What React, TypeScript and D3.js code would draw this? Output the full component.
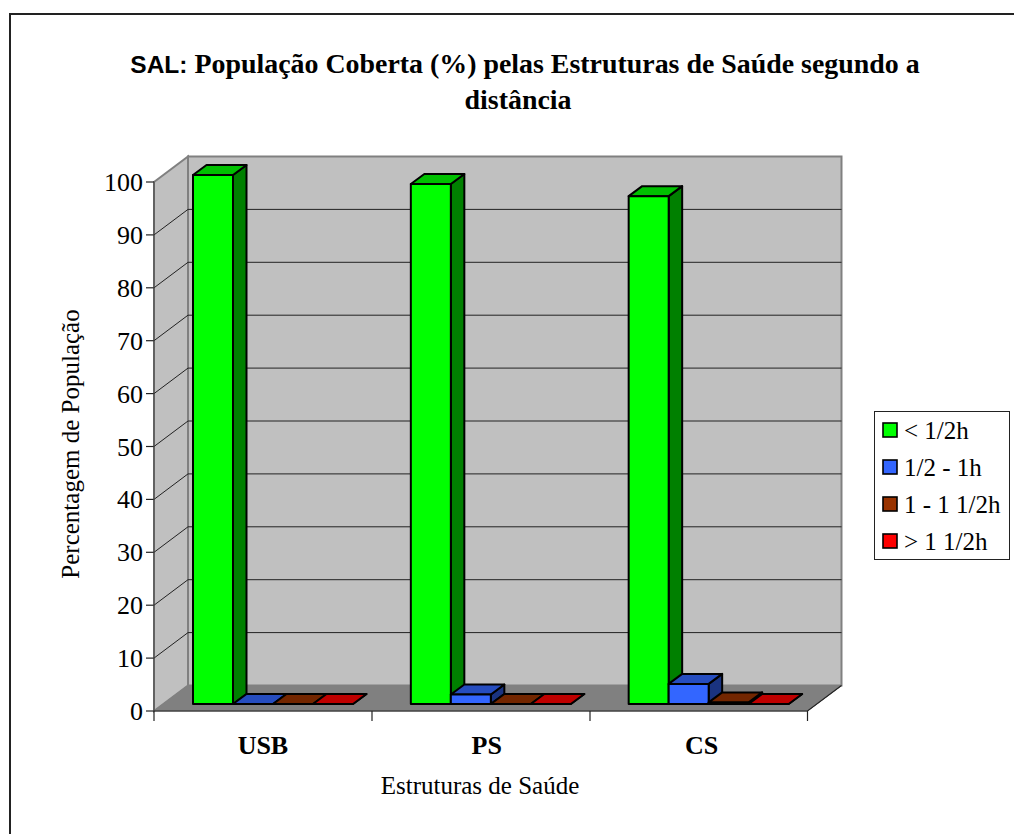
import React from "react";
import * as d3 from "d3";

const categories = ["USB", "PS", "CS"];
const seriesNames = ["< 1/2h", "1/2 - 1h", "1 - 1 1/2h", "> 1 1/2h"];
const under30 = [100, 98.3, 96];
const from30to60 = [0, 1.8, 3.8];
const from60to90 = [0, 0, 0.3];
const over90 = [0, 0, 0];
const series = [under30, from30to60, from60to90, over90];
const yTicks = d3.range(0, 101, 10);

const front = ["#00ff00", "#3366ff", "#993300", "#ff0000"];
const top = ["#00c000", "#264dbf", "#732600", "#bf0000"];
const side = ["#008000", "#1a3380", "#4d1a00", "#800000"];

const serif = "'Liberation Serif', 'Times New Roman', serif";
const sans = "'Liberation Sans', Arial, sans-serif";

const x = d3.scaleBand<string>().domain(categories).range([154, 807.5]);
const y = d3.scaleLinear().domain([0, 100]).range([711, 182]);
const wallDx = 34, wallDy = 25.5;
const barDx = 13.5, barDy = 10;
const barW = 40;
const barLeftInset = 39, barLift = 7;
const catLabelShift = [0, 6, 3];

const poly = (pts: number[][]) => pts.map((p) => p.join(",")).join(" ");

export default function App() {
  const backL = 154 + wallDx, backR = 807.5 + wallDx;
  return (
    <svg width={1014} height={834} style={{ position: "absolute", left: 0, top: 0, background: "#fff" }}>
      <path d="M10 834V14H1014" fill="none" stroke="#222" strokeWidth={2} />
      <text textAnchor="middle" fontFamily={serif} fontWeight="bold" fontSize={27.9}>
        <tspan x={525} y={73}><tspan fontFamily={sans} fontSize={24.5}>SAL:</tspan> População Coberta (%) pelas Estruturas de Saúde segundo a</tspan>
        <tspan x={518} y={109}>distância</tspan>
      </text>

      {/* walls */}
      <polygon points={poly([[backL, y(100) - wallDy], [backR, y(100) - wallDy], [backR, y(0) - wallDy], [backL, y(0) - wallDy]])} fill="#c0c0c0" stroke="#808080" strokeWidth={2} />
      <polygon points={poly([[154, y(100)], [backL, y(100) - wallDy], [backL, y(0) - wallDy], [154, y(0)]])} fill="#c0c0c0" stroke="#808080" strokeWidth={2} />
      <polygon points={poly([[154, y(0)], [backL, y(0) - wallDy], [backR, y(0) - wallDy], [807.5, y(0)]])} fill="#808080" stroke="#808080" />

      {yTicks.map((t) => (
        <g key={t}>
          {t > 0 && t < 100 && <path d={`M${backL} ${y(t) - wallDy}H${backR}`} stroke="#222" strokeWidth={1} />}
          {t < 100 && t > 0 && <path d={`M154 ${y(t)}L${backL} ${y(t) - wallDy}`} stroke="#222" strokeWidth={1} fill="none" />}
          <path d={`M146 ${y(t)}H154`} stroke="#222" strokeWidth={1.2} />
          <text x={143} y={y(t) + 9} textAnchor="end" fontFamily={serif} fontSize={26} fill="#000">{t}</text>
        </g>
      ))}
      <path d={`M154 ${y(100) - 0.5}V${y(0)}`} stroke="#444" strokeWidth={1} />
      <path d={`M154 ${y(0)}H807.5L${backR} ${y(0) - wallDy}`} stroke="#222" strokeWidth={1.2} fill="none" />
      {[154, 372, 590, 807.5].map((t) => <path key={t} d={`M${t} ${y(0)}V${y(0) + 10}`} stroke="#222" strokeWidth={1.2} />)}

      {/* bars, back to front */}
      {categories.map((c, ci) => series.map((vals, si) => {
        const v = vals[ci];
        const x0 = (x(c) as number) + barLeftInset + si * barW;
        const x1 = x0 + barW;
        const yb = y(0) - barLift;
        const yt = y(v) - barLift;
        const st = { stroke: "#000", strokeWidth: 2, strokeLinejoin: "round" as const };
        return (
          <g key={c + si}>
            <polygon points={poly([[x1, yt], [x1 + barDx, yt - barDy], [x1 + barDx, yb - barDy], [x1, yb]])} fill={side[si]} {...st} />
            <polygon points={poly([[x0, yt], [x0 + barDx, yt - barDy], [x1 + barDx, yt - barDy], [x1, yt]])} fill={top[si]} {...st} />
            <rect x={x0} y={yt} width={barW} height={Math.max(0, yb - yt)} fill={front[si]} {...st} />
          </g>
        );
      }))}

      {categories.map((c, i) => (
        <text key={c} x={(x(c) as number) + x.bandwidth() / 2 + catLabelShift[i]} y={754} textAnchor="middle" fontFamily={serif} fontWeight="bold" fontSize={26}>{c}</text>
      ))}
      <text x={480} y={794} textAnchor="middle" fontFamily={serif} fontSize={25}>Estruturas de Saúde</text>
      <text transform="translate(79,444) rotate(-90)" textAnchor="middle" fontFamily={serif} fontSize={25}>Percentagem de População</text>

      {/* legend */}
      <rect x={874.5} y={411.5} width={135} height={148} fill="#fff" stroke="#222" strokeWidth={1} />
      {seriesNames.map((s, i) => (
        <g key={s}>
          <rect x={883} y={423 + i * 37} width={14} height={14} fill={front[i]} stroke="#000" strokeWidth={1.6} />
          <text x={904} y={439 + i * 37} fontFamily={serif} fontSize={25}>{s}</text>
        </g>
      ))}
    </svg>
  );
}
